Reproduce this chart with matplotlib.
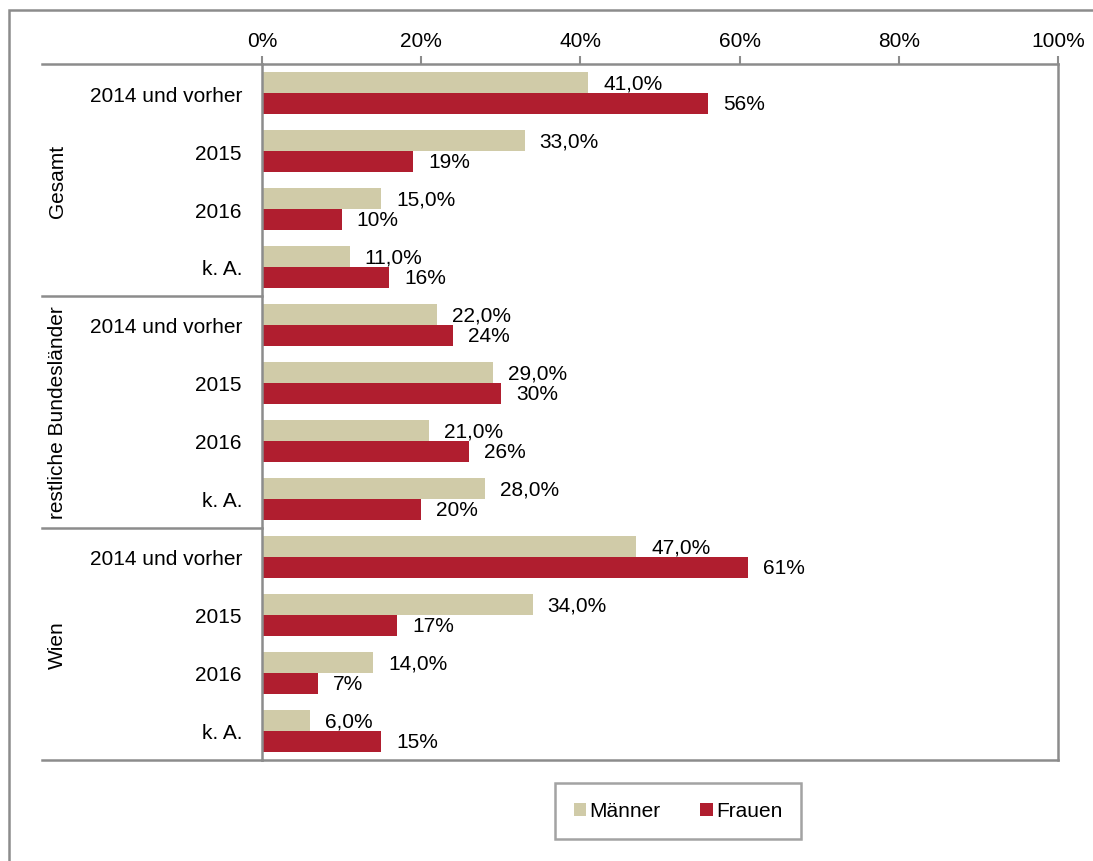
import matplotlib
matplotlib.use("Agg")
import matplotlib.pyplot as plt
from matplotlib.patches import Rectangle, Patch

plt.rcParams['font.family'] = ['Liberation Sans', 'DejaVu Sans']

groups = ["Gesamt", "restliche Bundesländer", "Wien"]
categories = ["2014 und vorher", "2015", "2016", "k. A."]
maenner = [41, 33, 15, 11, 22, 29, 21, 28, 47, 34, 14, 6]
frauen = [56, 19, 10, 16, 24, 30, 26, 20, 61, 17, 7, 15]
xticks = [0, 20, 40, 60, 80, 100]

c_m = "#D0CBA8"
c_f = "#B01E2F"
grey = "#8C8C8C"
fs = 15

W, H = 1093, 862
fig = plt.figure(figsize=(W / 100, H / 100), dpi=100)
L, R, T, B = 262, 1058, 65, 761
ax = fig.add_axes([L / W, 1 - B / H, (R - L) / W, (B - T) / H])

n = len(maenner)
ypos = list(range(n))
bh = 0.362
ax.barh([y - bh / 2 for y in ypos], maenner, height=bh, color=c_m, label="Männer")
ax.barh([y + bh / 2 for y in ypos], frauen, height=bh, color=c_f, label="Frauen")

off = 15 / (R - L) * 100
for y, v in zip(ypos, maenner):
    ax.text(v + off, y - bh / 2, f"{v:.1f}%".replace(".", ","), va="center", ha="left", fontsize=fs)
for y, v in zip(ypos, frauen):
    ax.text(v + off, y + bh / 2, f"{v:.0f}%", va="center", ha="left", fontsize=fs)

ax.set_xlim(0, 100)
ax.set_ylim(n - 0.5, -0.5)
ax.xaxis.tick_top()
ax.set_xticks(xticks)
ax.set_xticklabels([f"{t}%" for t in xticks], fontsize=fs)
ax.tick_params(axis="x", direction="out", length=6, width=1.5, color=grey, pad=4)
ax.set_yticks(ypos)
ax.set_yticklabels(categories * len(groups), fontsize=fs)
ax.tick_params(axis="y", length=0, pad=14.4)
for s in ax.spines.values():
    s.set_color(grey)
    s.set_linewidth(1.8)

# group separators and labels
xl = (42 - L) / (R - L)
for k in range(len(groups) + 1):
    yy = k * 4 - 0.5
    ax.plot([xl, 0], [yy, yy], transform=ax.get_yaxis_transform(), color=grey, lw=1.8, clip_on=False)
xg = (57 - L) / (R - L)
for k, g in enumerate(groups):
    ax.text(xg, k * 4 + 1.5, g, rotation=90, va="center", ha="center", fontsize=fs,
            transform=ax.get_yaxis_transform())

# outer border
fig.patches.append(Rectangle((9 / W, -0.1), 1.2, 1 - 11 / H + 0.1, transform=fig.transFigure,
                             fill=False, edgecolor=grey, lw=1.8))

handles = [Patch(facecolor=c_m, edgecolor="none"), Patch(facecolor=c_f, edgecolor="none")]
leg = fig.legend(handles, ["Männer", "Frauen"], loc="center", bbox_to_anchor=(678 / W, 1 - 812 / H),
                 ncol=2, fontsize=fs, frameon=True, fancybox=False, handlelength=0.6, handleheight=0.6,
                 handletextpad=0.15, columnspacing=1.9, borderpad=0.9, borderaxespad=0)
leg.get_frame().set_edgecolor(grey)
leg.get_frame().set_linewidth(1.8)

fig.savefig("out.png", dpi=100)
